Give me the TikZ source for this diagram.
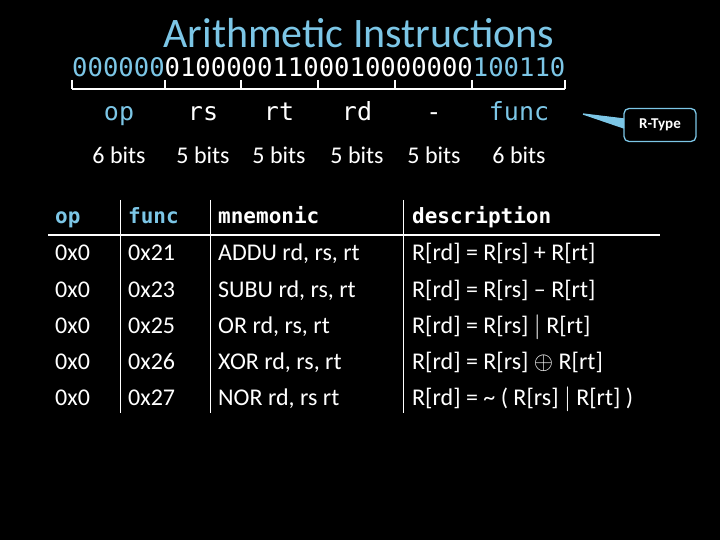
\documentclass[tikz,border=0pt]{standalone}
\usepackage{fontspec}
\setmainfont{Carlito}
\newfontfamily\monof{DejaVu Sans Mono}
\usepackage{amssymb}
\definecolor{lblue}{HTML}{7CC6E6}
\begin{document}
\begin{tikzpicture}[x=1pt,y=-1pt,
  every node/.style={text=white,inner sep=0pt,anchor=center},
  fld/.style={font=\monof\fontsize{25}{25}\selectfont,anchor=base},
  bits/.style={font=\fontsize{24}{24}\selectfont,anchor=base},
  hdr/.style={font=\monof\bfseries\fontsize{21}{21}\selectfont,anchor=base west},
  cell/.style={font=\fontsize{24}{24}\selectfont,anchor=base west},
  rule/.style={white,line width=1.2pt}]
\fill[black] (0,0) rectangle (720,540);
\useasboundingbox (0,0) rectangle (720,540);
\node[text=lblue,font=\fontsize{42}{42}\selectfont,anchor=base] (title) at (359,48) {Arithmetic Instructions};
\node[font=\monof\fontsize{25.6}{25.6}\selectfont,anchor=base west] (bin) at (72,77)
 {\textcolor{lblue}{000000}01000001100010000000\textcolor{lblue}{100110}};
\coordinate (b0) at (72,89); \coordinate (b6) at (565,89);
\draw[rule] (b0) -- (b6);
\foreach \x in {72,165,241,318,395,472,565}{\draw[rule] (\x,80) -- (\x,89);}
\node[fld,text=lblue] (op) at (119,121) {op};
\node[fld] (rs) at (203,121) {rs};
\node[fld] (rt) at (279,121) {rt};
\node[fld] (rd) at (357,121) {rd};
\node[fld] (sh) at (434,121) {-};
\node[fld,text=lblue] (fn) at (519,121) {func};
\foreach \n/\x/\t in {a/119/6,b/203/5,c/279/5,d/357/5,e/434/5,f/519/6}{\node[bits] (bits\n) at (\x,164) {\t\ bits};}
\node[draw=lblue,line width=1.3pt,fill=black,rounded corners=5pt,minimum width=72pt,minimum height=33pt,font=\bfseries\fontsize{15}{15}\selectfont] (rtype) at (660,125) {R-Type};
\coordinate (tip) at (583,114);
\fill[lblue] (tip) -- (624,119) -- (624,128) -- cycle;
\draw[lblue,line width=1.3pt] (tip) -- (624,119) (tip) -- (624,128);
% table
\node[hdr,text=lblue] (h1) at (55,223) {op};
\node[hdr,text=lblue] (h2) at (128,223) {func};
\node[hdr] (h3) at (218,223) {mnemonic};
\node[hdr] (h4) at (412,223) {description};
\draw[white,line width=2.8pt] (48,235) -- (660,235);
\foreach \x in {120,210,403}{\draw[white,line width=1pt] (\x,200) -- (\x,413);}
\foreach \y/\f/\m/\d [count=\i] in {
 260/21/{ADDU rd, rs, rt}/{R[rd] = R[rs] + R[rt]},
 297/23/{SUBU rd, rs, rt}/{R[rd] = R[rs] -- R[rt]},
 333/25/{OR rd, rs, rt}/{R[rd] = R[rs] $|$ R[rt]},
 369/26/{XOR rd, rs, rt}/{R[rd] = R[rs] $\oplus$ R[rt]},
 405/27/{NOR rd, rs rt}/{R[rd] = \textasciitilde\ ( R[rs] $|$ R[rt] )}}{
 \node[cell] (op\i) at (55,\y) {0x0};
 \node[cell] (fn\i) at (128,\y) {0x\f};
 \node[cell] (mn\i) at (218,\y) {\m};
 \node[cell] (ds\i) at (412,\y) {\d};
}
\end{tikzpicture}
\end{document}
